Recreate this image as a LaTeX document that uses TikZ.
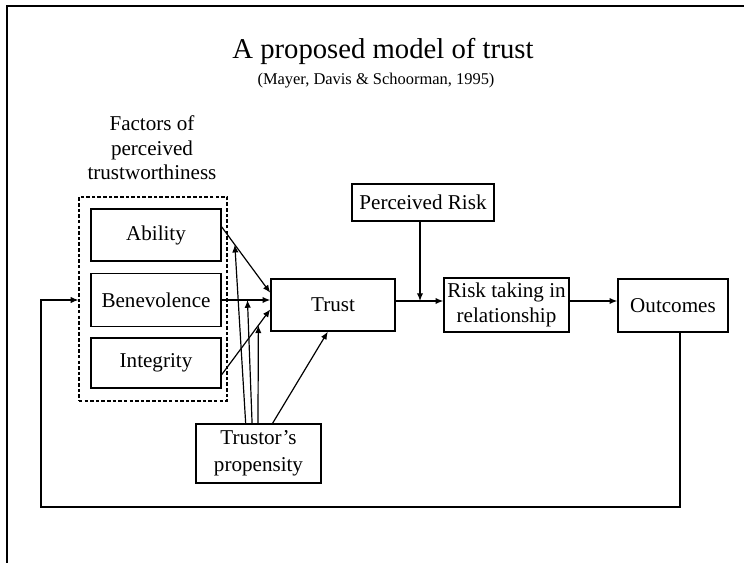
\documentclass[tikz,border=0pt]{standalone}
\usepackage{fontspec}
\setmainfont{Liberation Serif}
\usetikzlibrary{arrows.meta}

\begin{document}
\begin{tikzpicture}[x=0.025cm,y=-0.025cm,
    box/.style={draw,line width=1pt,inner sep=1pt,align=center,font=\fontsize{15}{17.5}\selectfont},
    dashbox/.style={draw,line width=0.8pt,dash pattern=on 2.5pt off 1.5pt},
    arr/.style={-{Latex[length=5.5pt,width=4.5pt]},line width=0.85pt}]
  \useasboundingbox (0,0) rectangle (744,563);

  % frame round the slide
  \draw[line width=0.8pt] (7,563) -- (7,6) -- (744,6);

  % title
  \node (title) at (383,51) {\fontsize{20.4}{24}\selectfont A proposed model of trust};
  \node (cite) at (376,81) {\fontsize{11.7}{14}\selectfont (Mayer, Davis \& Schoorman, 1995)};

  % factors of perceived trustworthiness
  \node[align=center,font=\fontsize{15}{17.4}\selectfont] (factorlabel) at (152,148)
    {Factors of\\perceived\\trustworthiness};
  \node[dashbox,minimum width=3.7cm,minimum height=5.1cm] (factors) at (153,299) {};
  \node[box,minimum width=3.25cm,minimum height=1.3cm] (ability) at (156,235) {Ability};
  \node[box,minimum width=3.25cm,minimum height=1.325cm] (benevolence) at (156,300) {Benevolence};
  \node[box,minimum width=3.25cm,minimum height=1.25cm] (integrity) at (156,363) {Integrity};

  % main chain
  \node[box,minimum width=3.1cm,minimum height=1.3cm] (trust) at (333,305) {Trust};
  \node[box,minimum width=3.55cm,minimum height=0.925cm] (risk) at (423,202.5) {Perceived Risk};
  \node[box,minimum width=3.125cm,minimum height=1.35cm] (taking) at (506.5,305) {Risk taking in\\relationship};
  \node[box,minimum width=2.75cm,minimum height=1.325cm] (outcomes) at (673,305.5) {Outcomes};
  \node[box,minimum width=3.125cm,minimum height=1.475cm] (propensity) at (258.5,453.5) {Trustor’s\\[2pt]propensity};

  % factors -> trust
  \draw[arr] (ability.7) -- (trust.169);
  \draw[arr] (benevolence.east) -- (benevolence.east -| trust.west);
  \draw[arr] (integrity.-10) -- (trust.184);

  % points on those arrows, hit by the propensity
  \path (ability.7) -- coordinate[pos=0.27] (onability) (trust.169);
  \path (benevolence.east) -- coordinate[pos=0.53] (onbenevolence) (benevolence.east -| trust.west);
  \path (integrity.-10) -- coordinate[pos=0.755] (onintegrity) (trust.184);

  % propensity
  \draw[arr] (propensity.113) -- (onability);
  \draw[arr] (propensity.102) -- (onbenevolence);
  \draw[arr] (propensity.91) -- (onintegrity);
  \draw[arr] (propensity.65) -- (trust.259);

  % trust -> risk taking -> outcomes
  \coordinate (join) at (420,301);
  \draw[arr] (trust.east |- join) -- (taking.west |- join);
  \draw[arr] (risk.south -| join) -- (join);
  \draw[arr] (taking.east |- join) -- (outcomes.west |- join);

  % feedback loop
  \coordinate (loopR) at (680,507);
  \coordinate (loopL) at (41,507);
  \draw[arr] (outcomes.south -| loopR) -- (loopR) -- (loopL) |- (factors.west |- benevolence);
\end{tikzpicture}
\end{document}
